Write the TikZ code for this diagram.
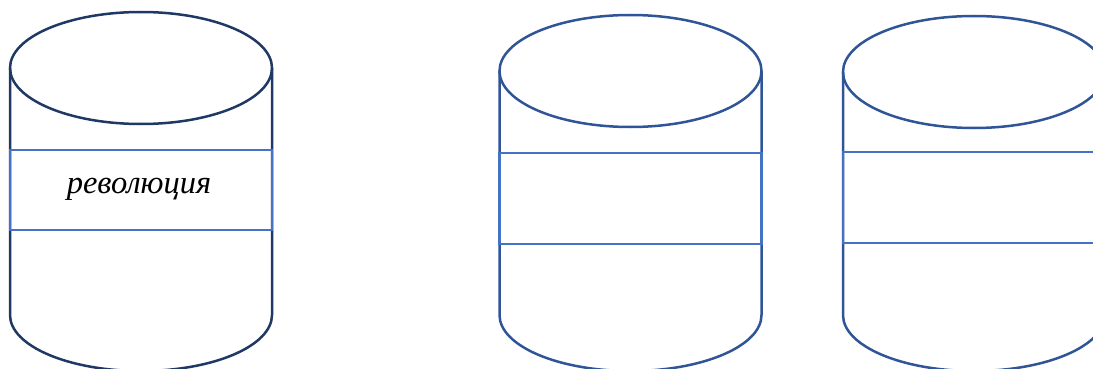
\documentclass[tikz,border=0pt]{standalone}
\usepackage{fontspec}
\setmainfont{Liberation Serif}
\definecolor{drumdark}{HTML}{203864}
\definecolor{drumblue}{HTML}{2F5597}
\definecolor{bandblue}{HTML}{4472C4}
\begin{document}
\begin{tikzpicture}[
  x=1pt, y=1pt,
  drum/.style={line width=2.5pt},
  band/.style={draw=bandblue, line width=2.5pt},
  word/.style={font=\itshape\fontsize{32.5}{32.5}\selectfont}
]
  \useasboundingbox (0,0) rectangle (1093,-369);
  \clip (0,0) rectangle (1093,-369);
  \def\rx{131}
  \def\ry{56}
  % centre x / centre y / band top / band bottom / colour
  \foreach \cx/\cy/\bt/\bb/\col in {141/68/150/230/drumdark,
      630.5/71/153/244/drumblue, 974/72/152/243/drumblue} {
    \draw[drum, draw=\col] (\cx-\rx,-\cy) -- (\cx-\rx,-315)
      arc[start angle=180, end angle=360, x radius=\rx, y radius=\ry]
      -- (\cx+\rx,-\cy);
    \draw[drum, draw=\col] (\cx,-\cy) ellipse [x radius=\rx, y radius=\ry];
    \draw[band] (\cx-\rx,-\bt) rectangle (\cx+\rx,-\bb);
  }
  \node[word] (rev) at (139,-189) {революция};
\end{tikzpicture}
\end{document}
